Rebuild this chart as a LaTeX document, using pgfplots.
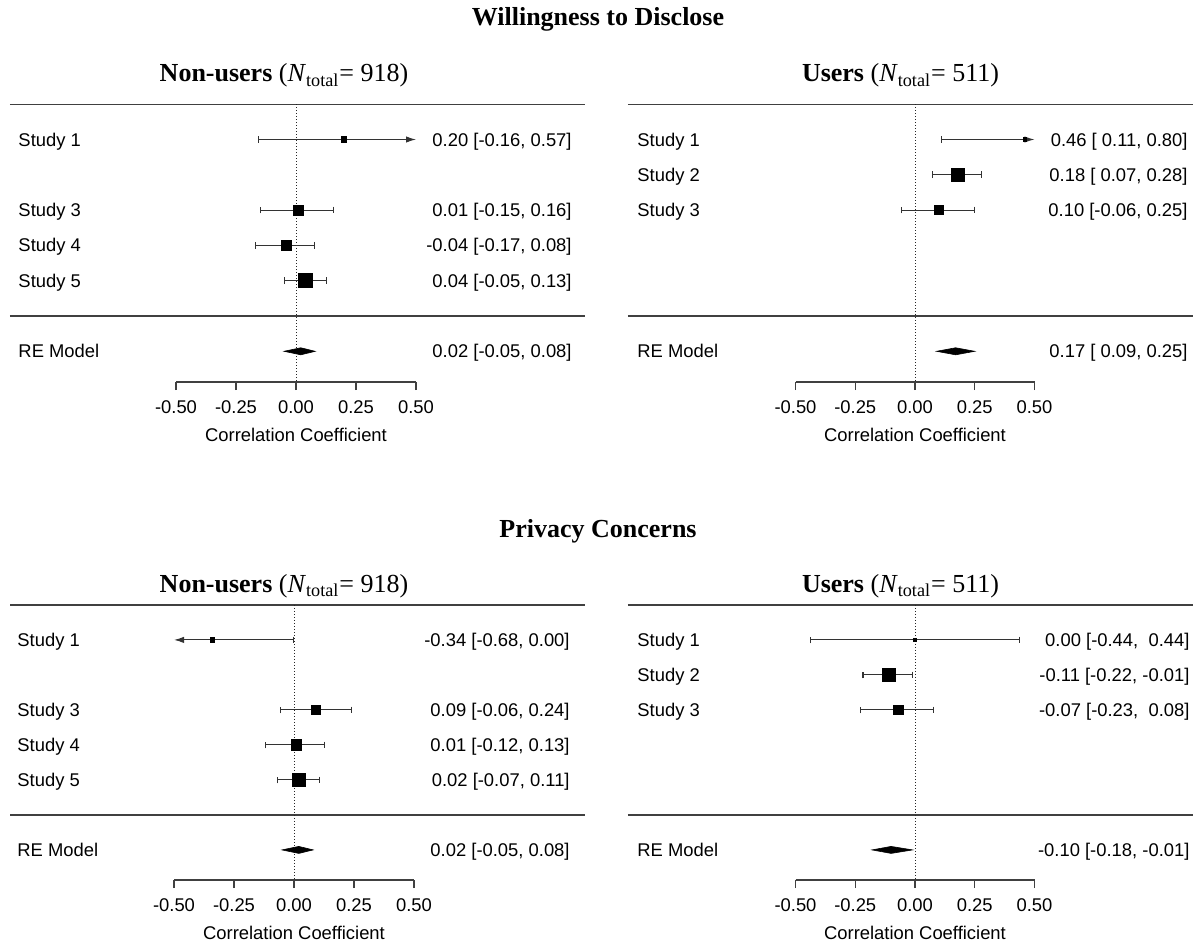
\documentclass[border=0pt]{standalone}
\usepackage{fontspec}
\setmainfont{Liberation Sans}
\newfontfamily\timesfont{Liberation Serif}
\usepackage{pgfplots}
\pgfplotsset{compat=1.18}
\usetikzlibrary{arrows.meta}

\newcommand\lbl{\fontsize{9.2}{11}\selectfont}
\newcommand\ttl{\timesfont\fontsize{13}{15}\selectfont}

\tikzset{
 ci/.style={black!80, line width=0.55pt, {Bar[width=3.4pt]}-{Bar[width=3.4pt]}},
 ciR/.style={black!80, line width=0.55pt, {Bar[width=3.4pt]}-{Latex[length=5pt,width=3.2pt]}},
 ciL/.style={black!80, line width=0.55pt, {Latex[length=5pt,width=3.2pt]}-{Bar[width=3.4pt]}},
 sep/.style={black!75, line width=0.6pt},
 zeroline/.style={black!85, line width=0.5pt, dash pattern=on 0.6pt off 0.9pt},
 dia/.style={fill=black, draw=black, line width=0.3pt},
 lab/.style={font=\lbl, anchor=base west, yshift=-3.3pt, inner sep=0pt},
 val/.style={font=\lbl, anchor=base east, yshift=-3.3pt, inner sep=0pt},
}
\pgfplotsset{
 sq/.style={only marks, mark=square*, black, mark size=#1},
 forest/.style={
  clip=false, axis x line*=bottom, axis y line=none,
  xmin=-0.5, xmax=0.5, ymax=0,
  xtick={-0.5,-0.25,0,0.25,0.5},
  xticklabels={-0.50,-0.25,0.00,0.25,0.50},
  ytick=\empty, minor tick num=0,
  tick align=outside, major tick length=4pt,
  x axis line style={black!75, line width=0.6pt, -},
  xtick style={black!75, line width=0.6pt},
  xticklabel style={font=\lbl, anchor=base, yshift=-11.8pt},
  anchor=south west,
 },
}

\begin{document}
\begin{tikzpicture}
\useasboundingbox (0,0) rectangle (596.5pt,-471.5pt);

% ---------- titles ----------
\node[font=\ttl\bfseries, anchor=base] at (299pt,-12.9pt) {Willingness to Disclose};
\node[font=\ttl, anchor=base] at (142pt,-40.85pt) {\textbf{Non-users} (\textit{N}\textsubscript{total}= 918)};
\node[font=\ttl, anchor=base] at (450.25pt,-40.85pt) {\textbf{Users} (\textit{N}\textsubscript{total}= 511)};
\node[font=\ttl\bfseries, anchor=base] at (299pt,-268.6pt) {Privacy Concerns};
\node[font=\ttl, anchor=base] at (142pt,-296.25pt) {\textbf{Non-users} (\textit{N}\textsubscript{total}= 918)};
\node[font=\ttl, anchor=base] at (450.25pt,-296.25pt) {\textbf{Users} (\textit{N}\textsubscript{total}= 511)};

% ---------- Top left ----------
\begin{axis}[forest, at={(88pt,-191pt)}, x=120pt, y=17.65pt, ymin=-7.87]
\addplot[sep] coordinates {(-1.192,0) (1.204,0)};
\addplot[sep] coordinates {(-1.192,-6) (1.204,-6)};
\addplot[zeroline] coordinates {(0,0) (0,-7.87)};
\addplot[ciR] coordinates {(-0.16,-1) (0.5,-1)};
\addplot[sq=1.3pt] coordinates {(0.20,-1)};
\addplot[ci] coordinates {(-0.15,-3) (0.16,-3)};
\addplot[sq=2.5pt] coordinates {(0.01,-3)};
\addplot[ci] coordinates {(-0.17,-4) (0.08,-4)};
\addplot[sq=2.65pt] coordinates {(-0.04,-4)};
\addplot[ci] coordinates {(-0.05,-5) (0.13,-5)};
\addplot[sq=3.4pt] coordinates {(0.04,-5)};
\addplot[dia] coordinates {(-0.05,-7) (0.02,-6.9) (0.08,-7) (0.02,-7.1)} -- cycle;
\node[lab] at (axis cs:-1.158,-1) {Study 1};
\node[lab] at (axis cs:-1.158,-3) {Study 3};
\node[lab] at (axis cs:-1.158,-4) {Study 4};
\node[lab] at (axis cs:-1.158,-5) {Study 5};
\node[lab] at (axis cs:-1.158,-7) {RE Model};
\node[val] at (axis cs:1.15,-1) {0.20 [-0.16, 0.57]};
\node[val] at (axis cs:1.15,-3) {0.01 [-0.15, 0.16]};
\node[val] at (axis cs:1.15,-4) {-0.04 [-0.17, 0.08]};
\node[val] at (axis cs:1.15,-5) {0.04 [-0.05, 0.13]};
\node[val] at (axis cs:1.15,-7) {0.02 [-0.05, 0.08]};
\node[font=\lbl, anchor=base, yshift=-29.75pt] at (axis cs:0,-7.87) {Correlation Coefficient};
\end{axis}

% ---------- Top right ----------
\begin{axis}[forest, at={(397.75pt,-191pt)}, x=119.5pt, y=17.65pt, ymin=-7.87]
\addplot[sep] coordinates {(-1.201,0) (1.163,0)};
\addplot[sep] coordinates {(-1.201,-6) (1.163,-6)};
\addplot[zeroline] coordinates {(0,0) (0,-7.87)};
\addplot[ciR] coordinates {(0.11,-1) (0.5,-1)};
\addplot[sq=0.8pt] coordinates {(0.46,-1)};
\addplot[ci] coordinates {(0.07,-2) (0.28,-2)};
\addplot[sq=3.4pt] coordinates {(0.18,-2)};
\addplot[ci] coordinates {(-0.06,-3) (0.25,-3)};
\addplot[sq=2.35pt] coordinates {(0.10,-3)};
\addplot[dia] coordinates {(0.09,-7) (0.17,-6.9) (0.25,-7) (0.17,-7.1)} -- cycle;
\node[lab] at (axis cs:-1.163,-1) {Study 1};
\node[lab] at (axis cs:-1.163,-2) {Study 2};
\node[lab] at (axis cs:-1.163,-3) {Study 3};
\node[lab] at (axis cs:-1.163,-7) {RE Model};
\node[val] at (axis cs:1.142,-1) {0.46 [\ 0.11, 0.80]};
\node[val] at (axis cs:1.142,-2) {0.18 [\ 0.07, 0.28]};
\node[val] at (axis cs:1.142,-3) {0.10 [-0.06, 0.25]};
\node[val] at (axis cs:1.142,-7) {0.17 [\ 0.09, 0.25]};
\node[font=\lbl, anchor=base, yshift=-29.75pt] at (axis cs:0,-7.87) {Correlation Coefficient};
\end{axis}

% ---------- Bottom left ----------
\begin{axis}[forest, at={(87pt,-440pt)}, x=120pt, y=17.5pt, ymin=-7.86]
\addplot[sep] coordinates {(-1.183,0) (1.2125,0)};
\addplot[sep] coordinates {(-1.183,-6) (1.2125,-6)};
\addplot[zeroline] coordinates {(0,0) (0,-7.86)};
\addplot[ciL] coordinates {(-0.5,-1) (0.00,-1)};
\addplot[sq=1.1pt] coordinates {(-0.34,-1)};
\addplot[ci] coordinates {(-0.06,-3) (0.24,-3)};
\addplot[sq=2.35pt] coordinates {(0.09,-3)};
\addplot[ci] coordinates {(-0.12,-4) (0.13,-4)};
\addplot[sq=2.55pt] coordinates {(0.01,-4)};
\addplot[ci] coordinates {(-0.07,-5) (0.11,-5)};
\addplot[sq=3.4pt] coordinates {(0.02,-5)};
\addplot[dia] coordinates {(-0.05,-7) (0.02,-6.9) (0.08,-7) (0.02,-7.1)} -- cycle;
\node[lab] at (axis cs:-1.154,-1) {Study 1};
\node[lab] at (axis cs:-1.154,-3) {Study 3};
\node[lab] at (axis cs:-1.154,-4) {Study 4};
\node[lab] at (axis cs:-1.154,-5) {Study 5};
\node[lab] at (axis cs:-1.154,-7) {RE Model};
\node[val] at (axis cs:1.15,-1) {-0.34 [-0.68, 0.00]};
\node[val] at (axis cs:1.15,-3) {0.09 [-0.06, 0.24]};
\node[val] at (axis cs:1.15,-4) {0.01 [-0.12, 0.13]};
\node[val] at (axis cs:1.15,-5) {0.02 [-0.07, 0.11]};
\node[val] at (axis cs:1.15,-7) {0.02 [-0.05, 0.08]};
\node[font=\lbl, anchor=base, yshift=-29.75pt] at (axis cs:0,-7.86) {Correlation Coefficient};
\end{axis}

% ---------- Bottom right ----------
\begin{axis}[forest, at={(397.75pt,-440pt)}, x=119.5pt, y=17.5pt, ymin=-7.86]
\addplot[sep] coordinates {(-1.201,0) (1.163,0)};
\addplot[sep] coordinates {(-1.201,-6) (1.163,-6)};
\addplot[zeroline] coordinates {(0,0) (0,-7.86)};
\addplot[ci] coordinates {(-0.44,-1) (0.44,-1)};
\addplot[sq=0.8pt] coordinates {(0.00,-1)};
\addplot[ci] coordinates {(-0.22,-2) (-0.01,-2)};
\addplot[sq=3.4pt] coordinates {(-0.11,-2)};
\addplot[ci] coordinates {(-0.23,-3) (0.08,-3)};
\addplot[sq=2.35pt] coordinates {(-0.07,-3)};
\addplot[dia] coordinates {(-0.18,-7) (-0.10,-6.9) (-0.01,-7) (-0.10,-7.1)} -- cycle;
\node[lab] at (axis cs:-1.163,-1) {Study 1};
\node[lab] at (axis cs:-1.163,-2) {Study 2};
\node[lab] at (axis cs:-1.163,-3) {Study 3};
\node[lab] at (axis cs:-1.163,-7) {RE Model};
\node[val] at (axis cs:1.15,-1) {0.00 [-0.44,\ \ 0.44]};
\node[val] at (axis cs:1.15,-2) {-0.11 [-0.22, -0.01]};
\node[val] at (axis cs:1.15,-3) {-0.07 [-0.23,\ \ 0.08]};
\node[val] at (axis cs:1.15,-7) {-0.10 [-0.18, -0.01]};
\node[font=\lbl, anchor=base, yshift=-29.75pt] at (axis cs:0,-7.86) {Correlation Coefficient};
\end{axis}
\end{tikzpicture}
\end{document}
